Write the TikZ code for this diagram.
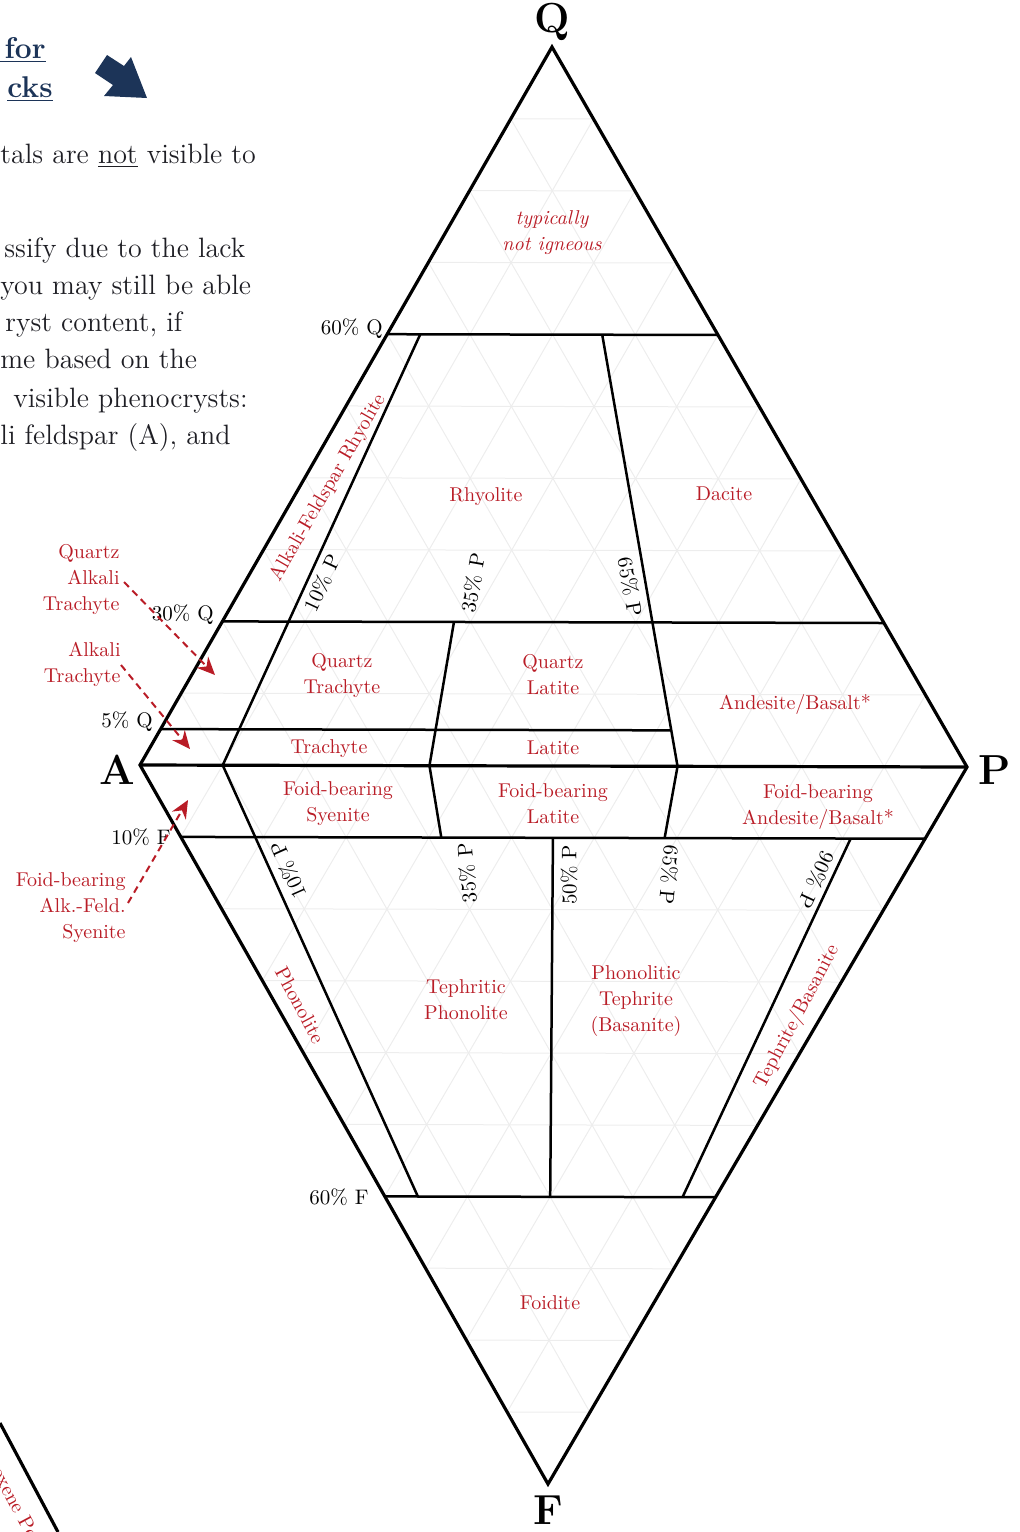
\documentclass[tikz,border=0pt]{standalone}
\usetikzlibrary{arrows.meta,calc}
\definecolor{lblred}{RGB}{185,28,38}
\definecolor{navy}{RGB}{28,52,88}
\definecolor{bodytxt}{RGB}{30,30,36}
\tikzset{
  grid/.style={draw=black!7,line width=0.5pt},
  edge/.style={draw=black,line width=1.6pt,line join=miter},
  bound/.style={draw=black,line width=1.25pt},
  rock/.style={text=lblred,font=\fontsize{10}{13}\selectfont,align=center,inner sep=0pt},
  pct/.style={text=black,font=\fontsize{10.5}{12}\selectfont,inner sep=0pt},
  apex/.style={text=black,font=\fontsize{21}{24}\selectfont\bfseries,inner sep=0pt},
  bodyline/.style={text=bodytxt,font=\fontsize{14}{16}\selectfont,anchor=base west,inner sep=0pt},
  headline/.style={text=navy,font=\fontsize{15}{18}\selectfont\bfseries,anchor=base east,inner sep=0pt},
  pointer/.style={draw=lblred,line width=1pt,dash pattern=on 3.5pt off 2.5pt,
    -{Stealth[length=9pt,width=8pt,inset=3pt,fill=lblred]}}
}
\begin{document}
\begin{tikzpicture}[x=0.5pt,y=-0.5pt]
\useasboundingbox (0,0) rectangle (1019,1532);
% vertices
\coordinate (Q) at (552,47);
\coordinate (A) at (140,765);
\coordinate (P) at (967,767);
\coordinate (F) at (548,1484);
% faint ternary grid
\foreach \i in {1,...,9}{
  \pgfmathtruncatemacro\j{10-\i}
  \draw[grid] (barycentric cs:Q=\i,A=\j) -- (barycentric cs:Q=\i,P=\j);
  \draw[grid] (barycentric cs:P=\i,A=\j) -- (barycentric cs:P=\i,Q=\j);
  \draw[grid] (barycentric cs:A=\i,P=\j) -- (barycentric cs:A=\i,Q=\j);
  \draw[grid] (barycentric cs:F=\i,A=\j) -- (barycentric cs:F=\i,P=\j);
  \draw[grid] (barycentric cs:P=\i,A=\j) -- (barycentric cs:P=\i,F=\j);
  \draw[grid] (barycentric cs:A=\i,P=\j) -- (barycentric cs:A=\i,F=\j);
}
% boundary coordinates
\coordinate (q60a) at (barycentric cs:Q=0.6,A=0.4);
\coordinate (q60p) at (barycentric cs:Q=0.6,P=0.4);
\coordinate (q20a) at (barycentric cs:Q=0.2,A=0.8);
\coordinate (q20p) at (barycentric cs:Q=0.2,P=0.8);
\coordinate (q05a) at (barycentric cs:Q=0.05,A=0.95);
\coordinate (q05e) at (barycentric cs:Q=0.05,A=0.3325,P=0.6175);
\coordinate (f10a) at (barycentric cs:F=0.1,A=0.9);
\coordinate (f10p) at (barycentric cs:F=0.1,P=0.9);
\coordinate (f60a) at (barycentric cs:F=0.6,A=0.4);
\coordinate (f60p) at (barycentric cs:F=0.6,P=0.4);
\coordinate (p10) at (barycentric cs:A=0.9,P=0.1);
\coordinate (p35) at (barycentric cs:A=0.65,P=0.35);
\coordinate (p65) at (barycentric cs:A=0.35,P=0.65);
\coordinate (u10) at (barycentric cs:Q=0.6,A=0.36,P=0.04);
\coordinate (u35) at (barycentric cs:Q=0.2,A=0.52,P=0.28);
\coordinate (u65) at (barycentric cs:Q=0.6,A=0.14,P=0.26);
\coordinate (l10) at (barycentric cs:F=0.6,A=0.36,P=0.04);
\coordinate (l35) at (barycentric cs:F=0.1,A=0.585,P=0.315);
\coordinate (l50t) at (barycentric cs:F=0.1,A=0.45,P=0.45);
\coordinate (l50b) at (barycentric cs:F=0.6,A=0.2,P=0.2);
\coordinate (l65) at (barycentric cs:F=0.1,A=0.315,P=0.585);
\coordinate (l90t) at (barycentric cs:F=0.1,A=0.09,P=0.81);
\coordinate (l90b) at (barycentric cs:F=0.6,A=0.04,P=0.36);
% field boundaries
\draw[bound] (q60a) -- (q60p);
\draw[bound] (q20a) -- (q20p);
\draw[bound] (q05a) -- (q05e);
\draw[bound] (f10a) -- (f10p);
\draw[bound] (f60a) -- (f60p);
\draw[bound] (u10) -- (p10) -- (l10);
\draw[bound] (u35) -- (p35) -- (l35);
\draw[bound] (u65) -- (p65) -- (l65);
\draw[bound] (l50t) -- (l50b);
\draw[bound] (l90t) -- (l90b);
\draw[edge] (A) -- (P);
\draw[edge] (Q) -- (A) -- (F) -- (P) -- cycle;
% apex letters
\node[apex] (lQ) at (552,22) {Q};
\node[apex] (lA) at (117,770) {A};
\node[apex] (lP) at (995,770) {P};
\node[apex] (lF) at (548,1510) {F};
% percentage labels
\node[pct,anchor=east] (t60q) at (383,329) {60\% Q};
\node[pct,anchor=east] (t30q) at (214,615) {30\% Q};
\node[pct,anchor=east] (t5q) at (153,722) {5\% Q};
\node[pct,anchor=east] (t10f) at (171,837) {10\% F};
\node[pct,anchor=east] (t60f) at (369,1197) {60\% F};
\node[pct,rotate=65] (tu10) at (322,583) {10\% P};
\node[pct,rotate=80] (tu35) at (473,583) {35\% P};
\node[pct,rotate=-80] (tu65) at (630,587) {65\% P};
\node[pct,rotate=114] (tl10) at (288,870) {10\% P};
\node[pct,rotate=95] (tl35) at (467,873) {35\% P};
\node[pct,rotate=90] (tl50) at (569,875) {50\% P};
\node[pct,rotate=-95] (tl65) at (669,875) {65\% P};
\node[pct,rotate=-115] (tl90) at (816,880) {90\% P};
% rock names
\node[rock,font=\fontsize{10}{13}\selectfont\itshape] (nig) at (552,233) {typically\\not igneous};
\node[rock] (rhy) at (486,497) {Rhyolite};
\node[rock] (dac) at (724,494) {Dacite};
\node[rock,rotate=60] (afr) at (328,488) {Alkali-Feldspar Rhyolite};
\node[rock] (qtr) at (342,675) {Quartz\\Trachyte};
\node[rock] (qla) at (553,675) {Quartz\\Latite};
\node[rock] (anb) at (795,704) {Andesite/Basalt*};
\node[rock] (tra) at (329,749) {Trachyte};
\node[rock] (lat) at (553,748) {Latite};
\node[rock] (fbs) at (338,804) {Foid-bearing\\Syenite};
\node[rock] (fbl) at (553,804) {Foid-bearing\\Latite};
\node[rock] (fba) at (818,807) {Foid-bearing\\Andesite/Basalt*};
\node[rock,rotate=-62] (pho) at (300,1005) {Phonolite};
\node[rock] (tph) at (466,1000) {Tephritic\\Phonolite};
\node[rock] (pht) at (636,1001) {Phonolitic\\Tephrite\\(Basanite)};
\node[rock,rotate=62] (teb) at (797,1017) {Tephrite/Basanite};
\node[rock] (foi) at (550,1303) {Foidite};
% side annotations with pointers
\node[rock,align=right,anchor=east] (qat) at (120,579) {Quartz\\Alkali\\Trachyte};
\node[rock,align=right,anchor=east] (alt) at (121,664) {Alkali\\Trachyte};
\node[rock,align=right,anchor=east] (fas) at (126,908) {Foid-bearing\\Alk.-Feld.\\Syenite};
\coordinate (qatS) at (124,582);
\coordinate (qatE) at (215,675);
\coordinate (altS) at (121,665);
\coordinate (altE) at (190,749);
\coordinate (fasS) at (128,903);
\coordinate (fasE) at (188,800);
\draw[pointer] (qatS) -- (qatE);
\draw[pointer] (altS) -- (altE);
\draw[pointer] (fasS) -- (fasE);
% left-hand text (cut off by the page edge)
\node[headline] (h1) at (46,58) {\underline{\hspace*{4pt}for}};
\node[headline] (h2) at (53,97) {\underline{cks}};
\fill[navy] (107,55) -- (124,66) -- (131,57) -- (147,98) -- (104,96) -- (113,85) -- (95,73) -- cycle;
\node[bodyline] (b1) at (0,163) {tals are \underline{not} visible to};
\node[bodyline] (b2) at (4,257) {ssify due to the lack};
\node[bodyline] (b3) at (0,294) {you may still be able};
\node[bodyline] (b4) at (5,331) {ryst content, if};
\node[bodyline] (b5) at (0,368) {me based on the};
\node[bodyline] (b6) at (13,407) {visible phenocrysts:};
\node[bodyline] (b7) at (0,444) {li feldspar (A), and};
% bottom-left fragment of a neighbouring diagram
\coordinate (bl1) at (0,1423);
\coordinate (bl2) at (58,1532);
\draw[edge] (bl1) -- (bl2);
\node[rock,rotate=-62,anchor=west] (opx) at (-3,1468) {oxene Pe};
\end{tikzpicture}
\end{document}
